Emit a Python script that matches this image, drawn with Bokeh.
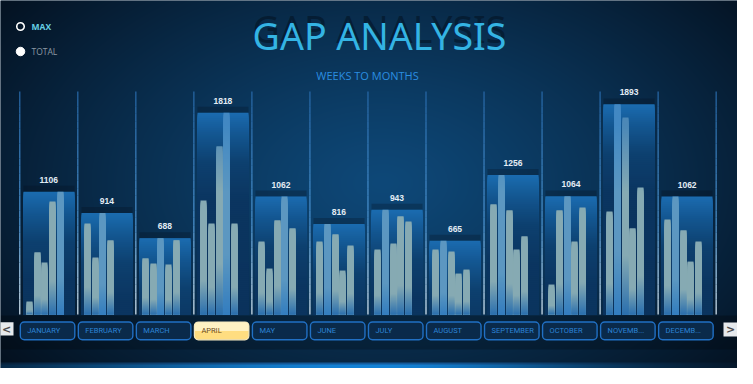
import numpy as np
from bokeh.plotting import figure
from bokeh.models import Range1d
from bokeh.core.properties import value
from bokeh.embed import file_html
from bokeh.resources import INLINE

# ---------------- data ----------------
MONTHS = ["JANUARY", "FEBRUARY", "MARCH", "APRIL", "MAY", "JUNE", "JULY",
          "AUGUST", "SEPTEMBER", "OCTOBER", "NOVEMBER", "DECEMBER"]
BUTTON_LABELS = ["JANUARY", "FEBRUARY", "MARCH", "APRIL", "MAY", "JUNE", "JULY",
                 "AUGUST", "SEPTEMBER", "OCTOBER", "NOVEMB...", "DECEMB..."]
MONTH_MAX = [1106, 914, 688, 1818, 1062, 816, 943, 665, 1256, 1064, 1893, 1062]
WEEK1 = [117, 820, 505, 1027, 658, 658, 585, 585, 991, 270, 928, 856]
WEEK2 = [559, 514, 459, 820, 414, 816, 943, 665, 1256, 937, 1893, 1062]
WEEK3 = [468, 914, 688, 1514, 847, 721, 640, 568, 937, 1064, 1775, 757]
WEEK4 = [1018, 667, 450, 1818, 1062, 396, 883, 369, 585, 658, 775, 477]
WEEK5 = [1106, None, 670, 820, 775, 622, 838, 405, 703, 964, 1144, 658]
SELECTED = "APRIL"
TITLE = "GAP ANALYSIS"
SUBTITLE = "WEEKS TO MONTHS"
LEGEND = ["MAX", "TOTAL"]

# ---------------- layout ----------------
W, H = 737, 368
PX = 58.03          # pixels per month slot
M0 = 48.3           # pixel x of first month centre
BASE = 314.0        # pixel y (from top) of value 0
UPP = 9.009         # value units per pixel
X0 = -M0 / PX
X1 = (W - M0) / PX
Y0 = -(H - BASE) * UPP
Y1 = BASE * UPP


def dx(px):
    return X0 + px / PX


def dy(py):
    return (BASE - py) * UPP


def snapx(x):
    return X0 + round((x - X0) * PX) / PX


def hex2rgb(h):
    return np.array([int(h[i:i + 2], 16) for i in (1, 3, 5)], float)


def to_hex(c):
    c = np.clip(np.round(c), 0, 255).astype(int)
    return "#%02x%02x%02x" % tuple(c)


def ramp(stops, t):
    pos = [s[0] for s in stops]
    cols = np.array([hex2rgb(s[1]) for s in stops])
    return np.array([np.interp(t, pos, cols[:, k]) for k in range(3)])


def levels(v, step_px):
    """slice boundaries (bottom, top) of a bar, listed from the top slice down"""
    n = int(np.ceil(v / UPP / step_px))
    out = [(j * step_px * UPP, min((j + 1) * step_px * UPP, v)) for j in range(n)]
    return out[::-1]


p = figure(width=W, height=H, x_range=Range1d(X0, X1), y_range=Range1d(Y0, Y1),
           output_backend="svg", toolbar_location=None, min_border=0,
           x_axis_location=None, y_axis_location=None)
p.grid.visible = False
p.outline_line_color = None
p.background_fill_color = "#08243f"
p.border_fill_color = "#08243f"

# ---------------- background image ----------------
ys, xs = np.mgrid[0:H, 0:W].astype(float)
rx = xs + 8
ry = ys + 8
d = np.sqrt(((rx - 390) / 520) ** 2 + ((ry - 190) / 330) ** 2)
t = np.clip(d, 0, 1) ** 1.2
inner = hex2rgb("#0e4878")
outer = hex2rgb("#030c18")
rgb = inner[None, None, :] * (1 - t[..., None]) + outer[None, None, :] * t[..., None]
m = (ry >= 323) & (ry < 357)
rgb[m] *= 0.72
m = (ry >= 357) & (ry < 370)
rgb[m] *= 0.92
w = np.where(rx < 380, np.exp(-((rx - 380) / 300) ** 2), np.exp(-((rx - 380) / 200) ** 2))
m = (ry >= 369.5) & (ry < 371.5)
rgb[m] = rgb[m] * (1 - 0.7 * w[m][:, None]) + hex2rgb("#1a70c0") * 0.7 * w[m][:, None]
m = ry >= 371.5
rgb[m] = rgb[m] * (1 - w[m][:, None]) + hex2rgb("#1482d6") * w[m][:, None]
img = np.empty((H, W), dtype=np.uint32)
view = img.view(dtype=np.uint8).reshape((H, W, 4))
view[..., :3] = np.clip(rgb, 0, 255).astype(np.uint8)
view[..., 3] = 255
p.image_rgba(image=[img[::-1].copy()], x=X0, y=Y0, dw=X1 - X0, dh=Y1 - Y0)

idx = list(range(len(MONTHS)))

# ---------------- separators ----------------
SEP_TOP = dy(91)
N = 30
sx, sy0, sy1, sc = [], [], [], []
for k in range(len(MONTHS) + 1):
    for j in range(N):
        a, b = SEP_TOP * j / N, SEP_TOP * (j + 1) / N
        sx.append(k - 0.5)
        sy0.append(a)
        sy1.append(b)
        sc.append(to_hex(ramp([(0, "#e0f0fb"), (0.18, "#a8d2f2"), (0.4, "#4f98d6"),
                               (1, "#2768a8")], (j + 0.5) / N)))
p.segment(x0=sx, y0=sy0, x1=sx, y1=sy1, line_color=sc, line_width=1.2)

# ---------------- big (max) bars ----------------
BW = 50.7 / PX
L, R, T, C = [], [], [], []
for i, v in zip(idx, MONTH_MAX):
    lft, rgt = snapx(i - BW / 2), snapx(i + BW / 2)
    for b, tp in levels(v, 2):
        dd = v - (b + tp) / 2
        L.append(lft)
        R.append(rgt)
        T.append(tp)
        C.append(to_hex(ramp([(0, "#1b6cb0"), (200, "#135690"), (450, "#0d406f"),
                              (800, "#0b3560"), (3000, "#0a2f57")], dd)))
# shadow above bars
p.quad(left=[snapx(i - BW / 2) for i in idx], right=[snapx(i + BW / 2) for i in idx],
       bottom=MONTH_MAX, top=[v + 6 * UPP for v in MONTH_MAX],
       fill_color="#020c18", fill_alpha=0.25, line_color=None)
p.quad(left=L, right=R, bottom=0, top=T, fill_color=C, line_color=None)

# ---------------- weekly bars ----------------
WEEKS = [WEEK1, WEEK2, WEEK3, WEEK4, WEEK5]
TW = 6.0 / PX
L, R, T, C = [], [], [], []
teal = hex2rgb("#86aab3")
upblue = hex2rgb("#3d80b8")
lowblue = hex2rgb("#2a6fae")
hl = hex2rgb("#3a88cc")
for k, wk in enumerate(WEEKS):
    off = -1 / 3 + k * (2 / 15)
    for i, v in zip(idx, wk):
        if v is None:
            continue
        is_max = v == MONTH_MAX[i]
        lft = snapx(i + off - TW / 2)
        rgt = lft + TW
        for b, tp in levels(v, 2):
            ymid = (b + tp) / 2
            u = np.clip((ymid - 1100) / 600, 0, 1) * 0.8
            col = teal * (1 - u) + upblue * u
            bfac = np.clip(1 - (ymid / v) / 0.3, 0, 1)
            col = col * (1 - bfac) + lowblue * bfac
            if is_max:
                col = col * 0.45 + hl * 0.55
            L.append(lft)
            R.append(rgt)
            T.append(tp)
            C.append(to_hex(col))
p.quad(left=L, right=R, bottom=0, top=T, fill_color=C, line_color=None)

# ---------------- value labels ----------------
p.text(x=idx, y=[v + 12 * UPP for v in MONTH_MAX], text=[str(v) for v in MONTH_MAX],
       text_align="center", text_baseline="middle", text_font=value("Liberation Sans"),
       text_font_style="bold", text_font_size="8.5px", text_color="#e4edf5")

# ---------------- slicer buttons ----------------
btop, bbot = dy(321.5), dy(339.3)
bl = [i - 0.5 + 0.5 / PX for i in idx]
br = [i + 0.5 - 3.0 / PX for i in idx]
sel = MONTHS.index(SELECTED)
nl = [bl[i] for i in idx if i != sel]
nr = [br[i] for i in idx if i != sel]
p.quad(left=nl, right=nr, bottom=bbot, top=btop, fill_color="#0a2a4a",
       line_color="#2170c4", line_width=1.4, border_radius=4)
p.quad(left=[bl[sel]], right=[br[sel]], bottom=bbot, top=btop, fill_color="#ffdd80",
       line_color=None, border_radius=4)
p.quad(left=[bl[sel]], right=[br[sel]], bottom=(btop + bbot) / 2, top=btop,
       fill_color="#fff2c4", line_color=None, border_radius=(4, 4, 0, 0))
p.quad(left=[bl[sel]], right=[br[sel]], bottom=bbot, top=btop, fill_color=None,
       line_color="#f6e9bf", line_width=1.2, border_radius=4)
tcol = ["#6a4815" if i == sel else "#2d84d6" for i in idx]
p.text(x=[b + 7 / PX for b in bl], y=(btop + bbot) / 2, text=BUTTON_LABELS,
       text_align="left", text_baseline="middle", text_font=value("Roboto"),
       text_font_size="7.5px", text_color=tcol)

# arrows
p.quad(left=[dx(-1), dx(723)], right=[dx(13), dx(737)], bottom=[dy(335), dy(336)],
       top=[dy(321.7), dy(322)], fill_color="#e6e9ec", line_color=None)
p.text(x=[dx(6), dx(730)], y=[dy(328.5), dy(329)], text=["<", ">"],
       text_align="center", text_baseline="middle", text_font=value("DejaVu Sans"),
       text_font_style="bold", text_font_size="11px", text_color="#4b4b4b")

# ---------------- legend ----------------
p.scatter(x=[dx(20)], y=[dy(26)], size=7.5, marker="circle", fill_color=None,
          line_color="white", line_width=1.6)
p.scatter(x=[dx(20)], y=[dy(51)], size=8.5, marker="circle", fill_color="white",
          line_color="white")
p.text(x=[dx(31)], y=[dy(26)], text=[LEGEND[0]], text_align="left",
       text_baseline="middle", text_font=value("Open Sans"), text_font_style="bold",
       text_font_size="8.5px", text_color="#67cfe3")
p.text(x=[dx(31)], y=[dy(51)], text=[LEGEND[1]], text_align="left",
       text_baseline="middle", text_font=value("Open Sans"), text_font_style="normal",
       text_font_size="8.5px", text_color="#8c99a3")

# ---------------- titles ----------------
p.text(x=[dx(379)], y=[dy(28)], text=[TITLE], text_align="center",
       text_baseline="alphabetic", text_font=value("Noto Sans"), text_font_size="37.5px",
       text_color="#020b16", text_alpha=0.45)
p.text(x=[dx(379)], y=[dy(34.7)], text=[TITLE], text_align="center",
       text_baseline="alphabetic", text_font=value("Noto Sans"), text_font_size="37.5px",
       text_color="#34b4e4")
p.text(x=[dx(367)], y=[dy(75)], text=[SUBTITLE], text_align="center",
       text_baseline="alphabetic", text_font=value("Open Sans"), text_font_size="11px",
       text_color="#2a8ee0")

open("out.html", "w").write(file_html(p, INLINE))
